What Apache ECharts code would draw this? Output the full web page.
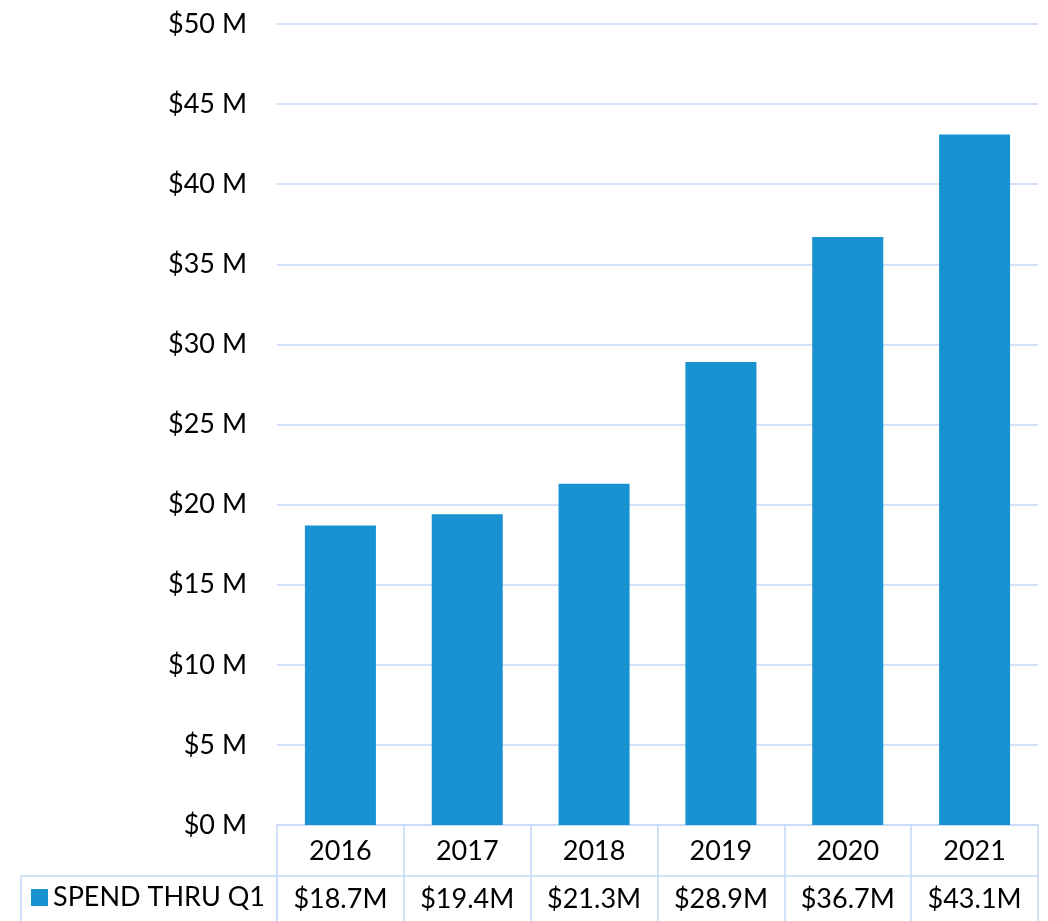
<!DOCTYPE html>
<html>
<head>
<meta charset="utf-8">
<script src="https://cdn.jsdelivr.net/npm/echarts@6/dist/echarts.min.js"></script>
<style>
  html, body { margin: 0; padding: 0; background: #fff; }
  #chart { width: 1048px; height: 921px; }
</style>
</head>
<body>
<div id="chart"></div>
<script>
// data
const years = ['2016', '2017', '2018', '2019', '2020', '2021'];
const spend = [18.7, 19.4, 21.3, 28.9, 36.7, 43.1]; // $M
const seriesName = 'SPEND THRU Q1';

const FONT = 'Lato, "Open Sans", sans-serif';
const BAR_COLOR = '#1892D0';
const LINE_COLOR = '#C6D9F7';
const TEXT_COLOR = '#000';

const chart = echarts.init(document.getElementById('chart'));

const option = {
  animation: false,
  textStyle: { fontFamily: FONT },
  grid: { left: 277, right: 10, top: 24, bottom: 96, containLabel: false },
  legend: {
    data: [seriesName],
    left: 31,
    top: 884,
    padding: 0,
    icon: 'rect',
    itemWidth: 17,
    itemHeight: 17,
    textStyle: { fontSize: 27, color: TEXT_COLOR, fontFamily: FONT, lineHeight: 27 }
  },
  // border of the legend cell of the data table
  graphic: [{
    type: 'rect',
    shape: { x: 21, y: 876, width: 256, height: 60 },
    style: { fill: null, stroke: LINE_COLOR, lineWidth: 1.5 },
    silent: true
  }],
  xAxis: [{
    type: 'category',
    data: years,
    position: 'bottom',
    axisLine: { show: true, lineStyle: { color: LINE_COLOR, width: 1.5 } },
    axisTick: { show: true, interval: 0, alignWithLabel: false, length: 51,
      lineStyle: { color: LINE_COLOR, width: 1.5 } },
    axisLabel: { fontSize: 27, color: TEXT_COLOR, margin: 13, lineHeight: 27, fontFamily: FONT }
  }, {
    type: 'category',
    data: years,
    position: 'bottom',
    offset: 51,
    axisLine: { show: true, lineStyle: { color: LINE_COLOR, width: 1.5 } },
    axisTick: { show: true, interval: 0, alignWithLabel: false, length: 50,
      lineStyle: { color: LINE_COLOR, width: 1.5 } },
    axisLabel: {
      fontSize: 27, color: TEXT_COLOR, margin: 10, lineHeight: 27, fontFamily: FONT,
      formatter: function (v, i) { return '$' + spend[i].toFixed(1) + 'M'; }
    }
  }],
  yAxis: {
    type: 'value',
    min: 0,
    max: 50,
    interval: 5,
    axisLine: { show: false },
    axisTick: { show: false },
    splitLine: { lineStyle: { color: LINE_COLOR, width: 1.5 } },
    axisLabel: {
      fontSize: 27, color: TEXT_COLOR, margin: 30, fontFamily: FONT,
      formatter: function (v) { return '$' + v + ' M'; }
    }
  },
  series: [{
    name: seriesName,
    type: 'bar',
    xAxisIndex: 0,
    data: spend,
    barWidth: '56%',
    itemStyle: { color: BAR_COLOR }
  }]
};

chart.setOption(option);
</script>
</body>
</html>
